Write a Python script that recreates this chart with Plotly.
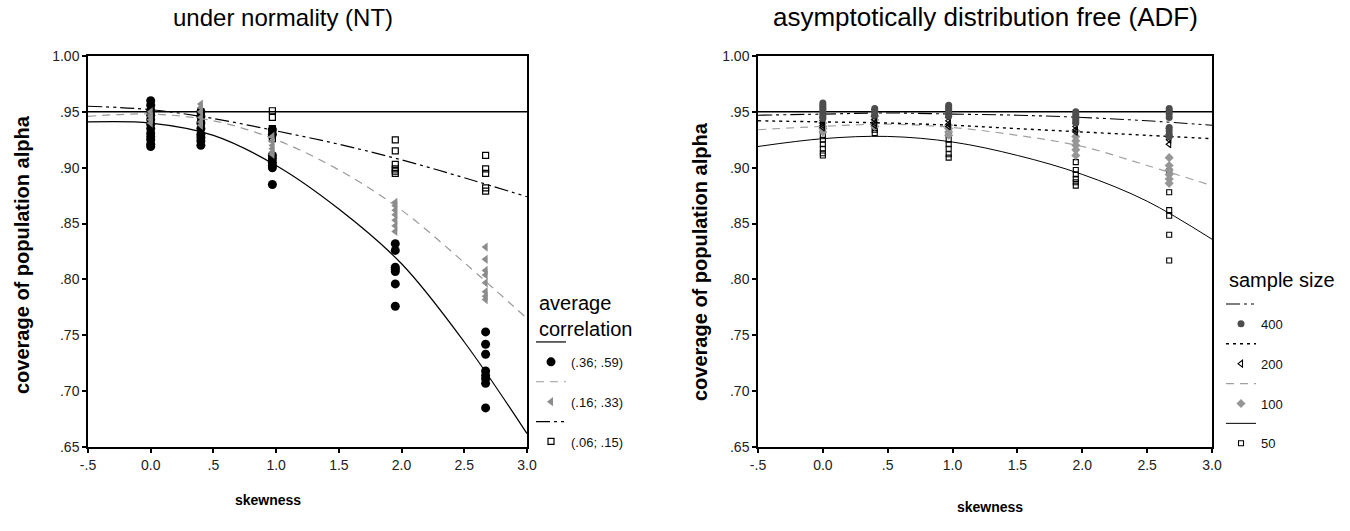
import plotly.graph_objects as go

# ---------------- data ----------------
skew_levels = [0.0, 0.4, 0.97, 1.95, 2.67]
x_tick_vals = [-0.5, 0.0, 0.5, 1.0, 1.5, 2.0, 2.5, 3.0]
x_tick_text = ['-.5', '0.0', '.5', '1.0', '1.5', '2.0', '2.5', '3.0']
y_tick_vals = [0.65, 0.70, 0.75, 0.80, 0.85, 0.90, 0.95, 1.00]
y_tick_text = ['.65', '.70', '.75', '.80', '.85', '.90', '.95', '1.00']
nominal_level = 0.95

# fitted curves (read at these skewness values)
curve_x = [-0.5, 0.0, 0.5, 1.0, 1.5, 2.0, 2.5, 3.0]
nt_fit_high = [0.941, 0.940, 0.929, 0.902, 0.863, 0.814, 0.744, 0.662]
nt_fit_mid = [0.946, 0.948, 0.942, 0.925, 0.898, 0.862, 0.815, 0.765]
nt_fit_low = [0.955, 0.952, 0.944, 0.933, 0.921, 0.907, 0.891, 0.874]
adf_fit_400 = [0.947, 0.948, 0.949, 0.948, 0.947, 0.945, 0.942, 0.938]
adf_fit_200 = [0.942, 0.941, 0.940, 0.938, 0.935, 0.932, 0.929, 0.926]
adf_fit_100 = [0.934, 0.937, 0.939, 0.936, 0.929, 0.919, 0.902, 0.884]
adf_fit_50 = [0.919, 0.926, 0.928, 0.923, 0.911, 0.894, 0.870, 0.836]

# NT observed coverage, one list per skewness level
nt_high = [
    [0.960, 0.956, 0.951, 0.947, 0.943, 0.939, 0.935, 0.931, 0.928, 0.925, 0.921, 0.919],
    [0.950, 0.946, 0.940, 0.935, 0.930, 0.927, 0.924, 0.920],
    [0.934, 0.930, 0.911, 0.908, 0.905, 0.902, 0.900, 0.885],
    [0.832, 0.826, 0.811, 0.809, 0.807, 0.796, 0.776],
    [0.753, 0.742, 0.733, 0.718, 0.714, 0.711, 0.707, 0.685],
]
nt_mid = [
    [0.950, 0.946, 0.943, 0.940],
    [0.957, 0.954, 0.950, 0.945, 0.941, 0.938],
    [0.928, 0.924, 0.920, 0.917, 0.914, 0.912],
    [0.869, 0.866, 0.862, 0.858, 0.853, 0.848, 0.843],
    [0.829, 0.818, 0.808, 0.804, 0.797, 0.789, 0.785, 0.782],
]
nt_low = [
    [0.955, 0.952, 0.950, 0.948],
    [0.950, 0.947, 0.943, 0.940, 0.937],
    [0.951, 0.945, 0.935, 0.932, 0.929, 0.926],
    [0.925, 0.915, 0.903, 0.899, 0.897, 0.895],
    [0.911, 0.899, 0.895, 0.882, 0.879],
]

# ADF observed coverage by sample size
adf_400 = [
    [0.958, 0.956, 0.954, 0.952, 0.950, 0.948, 0.946, 0.944],
    [0.953, 0.951, 0.949, 0.947],
    [0.956, 0.954, 0.952, 0.950, 0.948, 0.946],
    [0.950, 0.948, 0.946, 0.944, 0.942, 0.940],
    [0.953, 0.951, 0.948, 0.945, 0.936, 0.933, 0.930, 0.928],
]
adf_200 = [
    [0.945, 0.942, 0.940, 0.938, 0.936],
    [0.952, 0.946, 0.943, 0.940, 0.938],
    [0.945, 0.942, 0.939, 0.937],
    [0.940, 0.937, 0.934, 0.932],
    [0.935, 0.930, 0.927, 0.925, 0.921],
]
adf_100 = [
    [0.940, 0.937, 0.935, 0.932],
    [0.946, 0.943, 0.940, 0.937],
    [0.938, 0.935, 0.932, 0.929],
    [0.933, 0.928, 0.924, 0.920, 0.916, 0.911],
    [0.909, 0.902, 0.898, 0.894, 0.890, 0.886],
]
adf_50 = [
    [0.933, 0.929, 0.925, 0.921, 0.917, 0.913, 0.911],
    [0.945, 0.940, 0.937, 0.934, 0.931],
    [0.930, 0.925, 0.921, 0.917, 0.912, 0.909],
    [0.905, 0.898, 0.894, 0.890, 0.887, 0.884],
    [0.897, 0.878, 0.862, 0.857, 0.840, 0.817],
]

nt_labels = ['(.36; .59)', '(.16; .33)', '(.06; .15)']
adf_labels = ['400', '200', '100', '50']

# ---------------- helpers ----------------
FONT = 'Liberation Sans, Arial, sans-serif'
W, H = 1350, 531


def px_x(p):
    return p / W


def px_y(p):
    return 1 - p / H


def flatten(groups):
    xs, ys = [], []
    for sx, vals in zip(skew_levels, groups):
        xs += [sx] * len(vals)
        ys += vals
    return xs, ys


fig = go.Figure()


def add_group(xa, ya, legend, rank, label, fit, line_style, pts, marker):
    fig.add_trace(go.Scatter(
        x=curve_x, y=fit, mode='lines', line=dict(shape='spline', smoothing=1.0, **line_style),
        xaxis=xa, yaxis=ya, name=' ', legend=legend, legendrank=rank, showlegend=True,
        hoverinfo='skip'))
    xs, ys = flatten(pts)
    fig.add_trace(go.Scatter(
        x=xs, y=ys, mode='markers', marker=marker, xaxis=xa, yaxis=ya,
        name=label, legend=legend, legendrank=rank + 1, showlegend=True))


# reference lines
for xa, ya in (('x', 'y'), ('x2', 'y2')):
    fig.add_trace(go.Scatter(x=[-0.5, 3.0], y=[nominal_level, nominal_level], mode='lines',
                             line=dict(color='black', width=1.5), xaxis=xa, yaxis=ya,
                             showlegend=False, hoverinfo='skip'))

# NT panel
add_group('x', 'y', 'legend', 100, nt_labels[2], nt_fit_low,
          dict(color='black', width=1.2, dash='14px,4px,3px,4px,3px,4px'), nt_low,
          dict(symbol='square-open', size=6, color='black', line=dict(width=1.2, color='black')))
add_group('x', 'y', 'legend', 10, nt_labels[0], nt_fit_high,
          dict(color='black', width=1.2), nt_high,
          dict(symbol='circle', size=9, color='black'))
add_group('x', 'y', 'legend', 50, nt_labels[1], nt_fit_mid,
          dict(color='#9a9a9a', width=1.2, dash='8px,6px'), nt_mid,
          dict(symbol='triangle-left', size=8, color='#8c8c8c'))

# ADF panel
add_group('x2', 'y2', 'legend2', 100, adf_labels[3], adf_fit_50,
          dict(color='black', width=1.0), adf_50,
          dict(symbol='square-open', size=5, color='black', line=dict(width=1.1, color='black')))
add_group('x2', 'y2', 'legend2', 70, adf_labels[2], adf_fit_100,
          dict(color='#a0a0a0', width=1.2, dash='8px,6px'), adf_100,
          dict(symbol='diamond', size=7, color='#969696'))
add_group('x2', 'y2', 'legend2', 40, adf_labels[1], adf_fit_200,
          dict(color='black', width=1.4, dash='3px,4px'), adf_200,
          dict(symbol='triangle-left-open', size=6, color='black', line=dict(width=1.1, color='black')))
add_group('x2', 'y2', 'legend2', 10, adf_labels[0], adf_fit_400,
          dict(color='black', width=1.1, dash='14px,4px,3px,4px,3px,4px'), adf_400,
          dict(symbol='circle', size=7, color='#4d4d4d'))

axis_common = dict(range=[-0.5, 3.0], tickvals=x_tick_vals, ticktext=x_tick_text,
                   showline=True, linecolor='black', linewidth=1.5, mirror=True,
                   ticks='outside', ticklen=4, tickwidth=2, tickcolor='black',
                   showgrid=False, zeroline=False, automargin=False,
                   tickfont=dict(family=FONT, size=14, color='#222'))
yaxis_common = dict(range=[0.65, 1.0], tickvals=y_tick_vals, ticktext=y_tick_text,
                    showline=True, linecolor='black', linewidth=1.5, mirror=True,
                    ticks='outside', ticklen=4, tickwidth=2, tickcolor='black',
                    showgrid=False, zeroline=False, automargin=False,
                    tickfont=dict(family=FONT, size=14, color='#222'),
                    domain=[px_y(447), px_y(56)])

fig.update_layout(
    width=W, height=H, autosize=False,
    margin=dict(l=0, r=0, t=0, b=0, pad=0, autoexpand=False),
    paper_bgcolor='white', plot_bgcolor='white',
    font=dict(family=FONT, color='black'),
    xaxis=dict(domain=[px_x(88), px_x(527)], anchor='y', **axis_common),
    yaxis=dict(anchor='x', **yaxis_common),
    xaxis2=dict(domain=[px_x(758), px_x(1212)], anchor='y2', **axis_common),
    yaxis2=dict(anchor='x2', **yaxis_common),
    legend=dict(x=px_x(531), y=px_y(327), xanchor='left', yanchor='top',
                font=dict(size=13, family=FONT, color='#111'), traceorder='normal',
                bgcolor='rgba(0,0,0,0)', itemwidth=30),
    legend2=dict(x=px_x(1221), y=px_y(289), xanchor='left', yanchor='top',
                 font=dict(size=13, family=FONT, color='#111'), traceorder='normal',
                 bgcolor='rgba(0,0,0,0)', itemwidth=30),
    showlegend=True,
)

annotations = [
    dict(text='under normality (NT)', x=px_x(283), y=px_y(17), font=dict(size=24)),
    dict(text='asymptotically distribution free (ADF)', x=px_x(985), y=px_y(17), font=dict(size=26)),
    dict(text='<b>coverage of population alpha</b>', x=px_x(22), y=px_y(255),
         textangle=-90, font=dict(size=20)),
    dict(text='<b>coverage of population alpha</b>', x=px_x(700), y=px_y(262),
         textangle=-90, font=dict(size=20)),
    dict(text='<b>skewness</b>', x=px_x(268), y=px_y(500), font=dict(size=14)),
    dict(text='<b>skewness</b>', x=px_x(990), y=px_y(507), font=dict(size=14)),
    # legend headings
    dict(text='average<br>correlation', x=px_x(537), y=px_y(316), xanchor='left',
         font=dict(size=20), align='left'),
    dict(text='sample size', x=px_x(1227), y=px_y(280), xanchor='left', font=dict(size=20)),
]
for a in annotations:
    a.setdefault('xanchor', 'center')
    a.update(xref='paper', yref='paper', showarrow=False, yanchor='middle')
    a['font'] = dict(family=FONT, color='black', **a['font'])
fig.update_layout(annotations=annotations)

fig.write_html('out.html', config={'displayModeBar': False},
               post_script="document.body.style.margin='0px';")
